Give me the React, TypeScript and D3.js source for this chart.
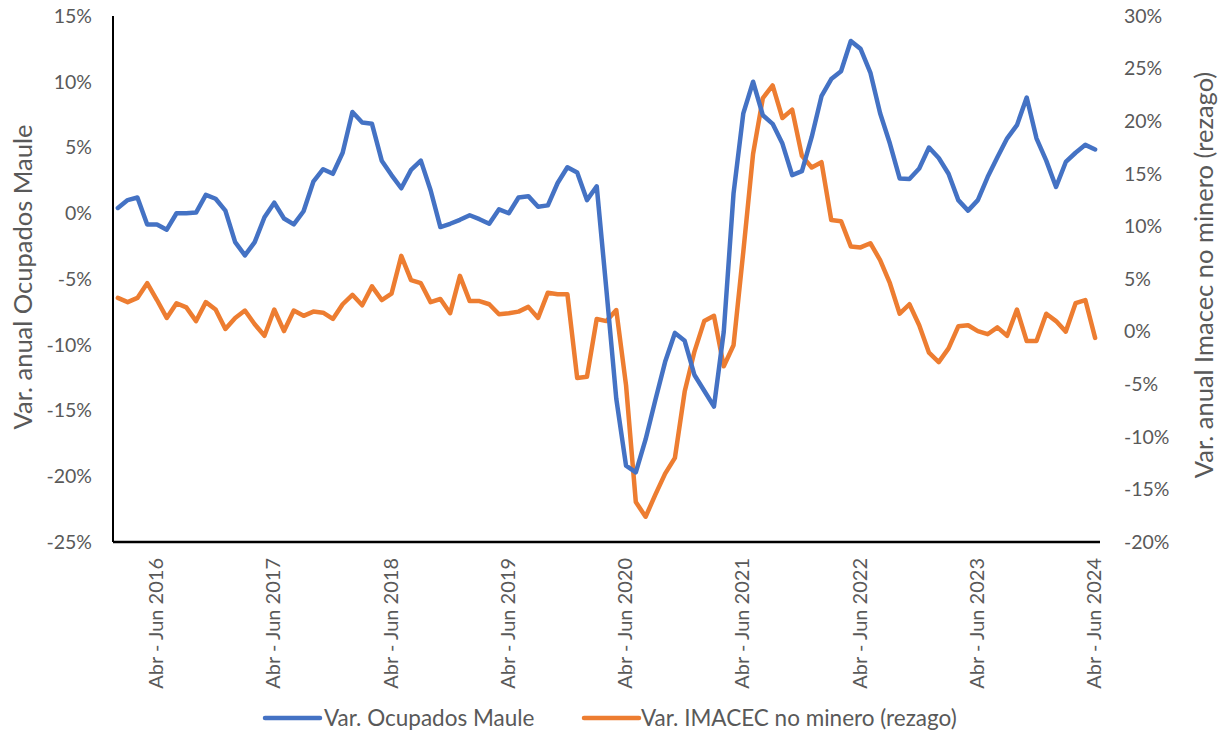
import React from "react";
import * as d3 from "d3";

const MONTHS = ["Ene", "Feb", "Mar", "Abr", "May", "Jun", "Jul", "Ago", "Sep", "Oct", "Nov", "Dic"];
// rolling quarters from Dic-Feb 2016 to Abr-Jun 2024 (101 categories)
const START_MONTH = 11; // Dic
const START_YEAR = 2015;
const N_CATS = 101;
const categories: string[] = [];
for (let i = 0; i < N_CATS; i++) {
  const m0 = START_MONTH + i;
  const s = m0 % 12;
  const e = (m0 + 2) % 12;
  const yEnd = START_YEAR + Math.floor((m0 + 2) / 12);
  categories.push(`${MONTHS[s]} - ${MONTHS[e]} ${yEnd}`);
}

const ocupadosMaule = [
  0.4, 1.0, 1.2, -0.85, -0.85, -1.25, 0.0, 0.0, 0.05, 1.4,
  1.1, 0.2, -2.2, -3.2, -2.2, -0.3, 0.8, -0.4, -0.85, 0.15,
  2.4, 3.35, 3.0, 4.6, 7.7, 6.9, 6.8, 4.0, 2.9, 1.9,
  3.3, 4.0, 1.75, -1.05, -0.8, -0.5, -0.15, -0.45, -0.8, 0.3,
  0.0, 1.2, 1.3, 0.5, 0.6, 2.3, 3.5, 3.1, 1.0, 2.05,
  -5.9, -14.1, -19.2, -19.7, -17.2, -14.2, -11.3, -9.1, -9.7, -12.3,
  -13.5, -14.7, -9.0, 1.5, 7.6, 10.0, 7.45, 6.8, 5.3, 2.9,
  3.2, 5.8, 8.9, 10.2, 10.8, 13.1, 12.5, 10.7, 7.6, 5.3,
  2.65, 2.6, 3.4, 5.0, 4.2, 3.0, 1.0, 0.2, 1.0, 2.75,
  4.25, 5.7, 6.7, 8.8, 5.7, 4.0, 2.0, 3.9, 4.6, 5.2,
  4.85,
];

const imacecNoMinero = [
  3.2, 2.8, 3.2, 4.6, 3.0, 1.3, 2.7, 2.3, 1.0, 2.8,
  2.1, 0.25, 1.3, 2.0, 0.7, -0.4, 2.1, 0.05, 2.0, 1.5,
  1.9, 1.8, 1.2, 2.6, 3.5, 2.5, 4.3, 3.0, 3.6, 7.2,
  4.9, 4.6, 2.8, 3.1, 1.75, 5.3, 2.9, 2.9, 2.6, 1.65,
  1.75, 1.9, 2.35, 1.3, 3.7, 3.55, 3.55, -4.4, -4.3, 1.2,
  1.0, 2.05, -5.1, -16.2, -17.6, -15.5, -13.5, -12.0, -5.7, -1.9,
  1.0, 1.5, -3.3, -1.3, 7.6, 16.9, 22.2, 23.4, 20.3, 21.1,
  16.7, 15.6, 16.1, 10.6, 10.5, 8.1, 8.0, 8.4, 6.8, 4.6,
  1.7, 2.6, 0.6, -2.0, -2.9, -1.6, 0.5, 0.6, 0.05, -0.25,
  0.4, -0.4, 2.1, -0.9, -0.9, 1.7, 1.0, 0.0, 2.7, 3.0,
  -0.6,
];

const leftTicks = [15, 10, 5, 0, -5, -10, -15, -20, -25];
const rightTicks = [30, 25, 20, 15, 10, 5, 0, -5, -10, -15, -20];

const seriesNames = ["Var. Ocupados Maule", "Var. IMACEC no minero (rezago)"];
const leftTitle = "Var. anual Ocupados Maule";
const rightTitle = "Var. anual Imacec no minero (rezago)";

const W = 1223;
const H = 734;
const M = { left: 113, right: 1100, top: 16, bottom: 542 };
const BLUE = "#4472C4";
const ORANGE = "#ED7D31";
const TXT = "#595959";
const FONT = "Lato, 'Open Sans', sans-serif";
const FS = 19.5;

export default function App() {
  const x = d3.scalePoint<string>().domain(categories).range([M.left, M.right]).padding(0.5);
  const yL = d3.scaleLinear().domain([-25, 15]).range([M.bottom, M.top]);
  const yR = d3.scaleLinear().domain([-20, 30]).range([M.bottom, M.top]);

  const lineL = d3
    .line<number>()
    .x((_, i) => x(categories[i]) as number)
    .y((d) => yL(d));
  const lineR = d3
    .line<number>()
    .x((_, i) => x(categories[i]) as number)
    .y((d) => yR(d));

  const xTicks = categories.filter((c) => c.startsWith("Abr"));

  return (
    <svg
      width={W}
      height={H}
      style={{ position: "absolute", left: 0, top: 0, background: "#fff" }}
      fontFamily={FONT}
    >
      {/* lines */}
      <path d={lineR(imacecNoMinero) || ""} fill="none" stroke={ORANGE} strokeWidth={4.5} strokeLinejoin="round" strokeLinecap="round" />
      <path d={lineL(ocupadosMaule) || ""} fill="none" stroke={BLUE} strokeWidth={4.5} strokeLinejoin="round" strokeLinecap="round" />

      {/* axes */}
      <line x1={M.left} x2={M.left} y1={M.top} y2={M.bottom} stroke="#000" strokeWidth={2} />
      <line x1={M.left} x2={M.right} y1={M.bottom} y2={M.bottom} stroke="#000" strokeWidth={2.5} />

      {/* left ticks */}
      {leftTicks.map((t) => (
        <text key={"l" + t} x={92} y={yL(t)} dy="0.35em" textAnchor="end" fontSize={FS} fill={TXT}>
          {`${t}%`}
        </text>
      ))}
      {/* right ticks */}
      {rightTicks.map((t) => (
        <text key={"r" + t} x={1124} y={yR(t)} dy="0.35em" textAnchor="start" fontSize={FS} fill={TXT}>
          {`${t}%`}
        </text>
      ))}

      {/* x ticks */}
      {xTicks.map((c) => {
        const px = x(c) as number;
        return (
          <text
            key={c}
            transform={`translate(${px + 6},${M.bottom + 16}) rotate(-90)`}
            textAnchor="end"
            fontSize={FS + 0.5}
            fill={TXT}
          >
            {c}
          </text>
        );
      })}

      {/* axis titles */}
      <text transform={`translate(32,277) rotate(-90)`} textAnchor="middle" fontSize={25.5} fill={TXT}>
        {leftTitle}
      </text>
      <text transform={`translate(1213,275) rotate(-90)`} textAnchor="middle" fontSize={25.5} fill={TXT}>
        {rightTitle}
      </text>

      {/* legend */}
      <line x1={265} x2={320} y1={718} y2={718} stroke={BLUE} strokeWidth={4.5} strokeLinecap="round" />
      <text x={324} y={718} dy="0.35em" fontSize={22.5} fill={TXT}>
        {seriesNames[0]}
      </text>
      <line x1={584} x2={639} y1={718} y2={718} stroke={ORANGE} strokeWidth={4.5} strokeLinecap="round" />
      <text x={641} y={718} dy="0.35em" fontSize={22.5} fill={TXT}>
        {seriesNames[1]}
      </text>
    </svg>
  );
}
